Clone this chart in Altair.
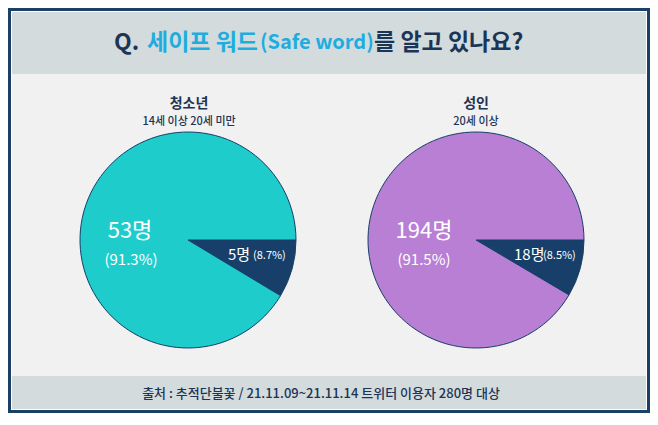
import math
import altair as alt
import pandas as pd

# ---- data ----
groups = ["청소년", "성인"]
subtitles = ["14세 이상 20세 미만", "20세 이상"]
answers = ["안다", "모른다"]
know_counts = [53, 194]
dont_counts = [5, 18]
know_pct = ["(91.3%)", "(91.5%)"]
dont_pct = ["(8.7%)", "(8.5%)"]
title_parts = ["Q.", "세이프 워드", "(Safe word)", "를 알고 있나요?"]
source_text = "출처 : 추적단불꽃 / 21.11.09~21.11.14 트위터 이용자 280명 대상"

rows = []
for i, g in enumerate(groups):
    rows.append({"group": g, "answer": answers[1], "count": dont_counts[i], "ord": 0})
    rows.append({"group": g, "answer": answers[0], "count": know_counts[i], "ord": 1})
pie_df = pd.DataFrame(rows)

W, H = 642, 405
FONT = "Noto Sans CJK KR"
NAVY = "#1c3f66"
TITLE_NAVY = "#1b3556"
CYAN = "#1fade0"
TEAL = "#1ecdcb"
PURPLE = "#b87fd4"
DARK = "#173f69"
BAND = "#d3dbdd"
MAIN = "#f1f1f1"

one = pd.DataFrame({"k": [0]})


def rect(x, x2, y, y2, color):
    return alt.Chart(one).mark_rect(color=color).encode(
        x=alt.value(x), x2=alt.value(x2), y=alt.value(y), y2=alt.value(y2)
    )


def txt(s, x, y, size, color, weight="normal", align="center"):
    return alt.Chart(pd.DataFrame({"t": [s]})).mark_text(
        font=FONT, fontSize=size, color=color, fontWeight=weight,
        align=align, baseline="middle"
    ).encode(text="t:N", x=alt.value(x), y=alt.value(y))


def pie(g, cx, cy, main_color):
    return alt.Chart(pie_df).transform_filter(
        alt.datum.group == g
    ).mark_arc(stroke=DARK, strokeWidth=1).encode(
        theta=alt.Theta("count:Q", stack=True,
                        scale=alt.Scale(range=[math.pi / 2, math.pi / 2 + 2 * math.pi])),
        order=alt.Order("ord:O"),
        color=alt.Color("answer:N", legend=None,
                        scale=alt.Scale(domain=answers, range=[main_color, DARK])),
        x=alt.value(cx), y=alt.value(cy), radius=alt.value(108),
    )


layers = [
    rect(3, W - 3, 3, H - 3, "#ffffff"),
    rect(4, W - 4, 4, 66, BAND),
    rect(4, W - 4, 66, 368, MAIN),
    rect(4, W - 4, 368, H - 4, BAND),
    # title
    txt(title_parts[0], 106, 35, 23, TITLE_NAVY, "bold", "left"),
    txt(title_parts[1], 139, 35, 23, CYAN, "bold", "left"),
    txt(title_parts[2], 252, 35, 20, CYAN, "bold", "left"),
    txt(title_parts[3], 366, 35, 23, TITLE_NAVY, "bold", "left"),
    # group headers
    txt(groups[0], 181, 96, 14, TITLE_NAVY, "bold"),
    txt(subtitles[0], 181, 114, 11, TITLE_NAVY, 500),
    txt(groups[1], 468, 96, 14, TITLE_NAVY, "bold"),
    txt(subtitles[1], 468, 114, 11, TITLE_NAVY, 500),
    # pies
    pie(groups[0], 180, 232, TEAL),
    pie(groups[1], 468, 232, PURPLE),
    # labels
    txt(f"{know_counts[0]}명", 122, 223, 22, "#ffffff"),
    txt(know_pct[0], 123, 252, 15, "#ffffff"),
    txt(f"{dont_counts[0]}명", 220, 247, 15, "#ffffff", "normal", "left"),
    txt(dont_pct[0], 245, 248, 11, "#ffffff", "normal", "left"),
    txt(f"{know_counts[1]}명", 416, 223, 22, "#ffffff"),
    txt(know_pct[1], 416, 252, 15, "#ffffff"),
    txt(f"{dont_counts[1]}명", 506, 247, 15, "#ffffff", "normal", "left"),
    txt(dont_pct[1], 535, 248, 11, "#ffffff", "normal", "left"),
    # source
    txt(source_text, 313, 386, 13, TITLE_NAVY, 500),
]

chart = alt.layer(*layers).resolve_scale(
    theta="independent", color="independent"
).properties(
    width=W, height=H, background=NAVY, padding=0,
    autosize=alt.AutoSizeParams(type="none"),
).configure_view(stroke=None)

chart.save("out.html", embed_options={"renderer": "svg", "actions": False})
